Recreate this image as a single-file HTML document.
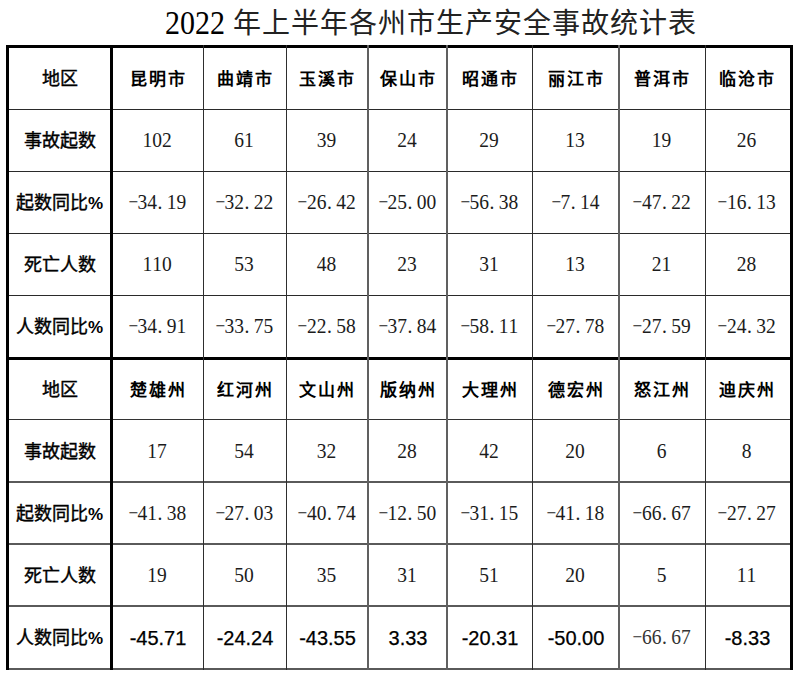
<!DOCTYPE html>
<html lang="zh-CN"><head><meta charset="utf-8"><title>table</title>
<style>
html,body{margin:0;padding:0;background:#fff;}
body{width:800px;height:676px;position:relative;overflow:hidden;font-family:"Liberation Serif",serif;color:#000;}
.l{position:absolute;}
.t{position:absolute;left:165px;top:7px;font-size:28px;letter-spacing:1px;line-height:34px;white-space:nowrap;color:#222;}
.tc{position:relative;top:-1px;}
.yr{display:inline-block;font-size:30px;letter-spacing:0;transform:scaleY(1.13);transform-origin:0 27px;color:#000;}
.c{position:absolute;display:flex;align-items:center;justify-content:center;white-space:nowrap;}
.lab{font-size:18px;font-weight:400;-webkit-text-stroke:0.4px #000;}
.lab span,.hd{position:relative;top:-2px;}
.lt{}
.lab b{-webkit-text-stroke:0;font-family:"Liberation Sans",sans-serif;font-size:17px;}
.hd{font-size:17px;font-weight:bold;letter-spacing:2px;padding-left:0px;}
.nm{font-size:19.5px;color:#1c1c1c;display:inline-block;transform:scaleY(1.1);position:relative;left:-1px;top:-1px;}
.g{color:#333;}
.nm i{font-style:normal;display:inline-block;width:0.5em;text-align:center;}
.nm i.m{transform:scaleX(0.88);}
.nm i.d{text-align:left;text-indent:0.5px;}
.sn{font-family:"Liberation Sans",sans-serif;font-size:20px;position:relative;top:1px;-webkit-text-stroke:0.25px #000;}
</style></head><body>
<div class="t"><span class="yr">2022</span> <span class="tc">年上半年各州市生产安全事故统计表</span></div>
<div class="l" style="left:6px;top:45px;width:787px;height:3px;background:#000"></div><div class="l" style="left:6px;top:109px;width:787px;height:1px;background:#2a2a2a"></div><div class="l" style="left:6px;top:171px;width:787px;height:1px;background:#2a2a2a"></div><div class="l" style="left:6px;top:233px;width:787px;height:1px;background:#2a2a2a"></div><div class="l" style="left:6px;top:295px;width:787px;height:1px;background:#2a2a2a"></div><div class="l" style="left:6px;top:357px;width:787px;height:3px;background:#000"></div><div class="l" style="left:6px;top:419px;width:787px;height:1px;background:#333"></div><div class="l" style="left:6px;top:481px;width:787px;height:2px;background:#5a5a5a"></div><div class="l" style="left:6px;top:543px;width:787px;height:2px;background:#5a5a5a"></div><div class="l" style="left:6px;top:605px;width:787px;height:2px;background:#5a5a5a"></div><div class="l" style="left:6px;top:668px;width:787px;height:2px;background:#5a5a5a"></div><div class="l" style="left:6px;top:45px;width:3px;height:625px;background:#000"></div><div class="l" style="left:110px;top:45px;width:3px;height:625px;background:#000"></div><div class="l" style="left:790px;top:45px;width:3px;height:625px;background:#000"></div><div class="l" style="left:203px;top:45px;width:1px;height:625px;background:#2e2e2e"></div><div class="l" style="left:286px;top:45px;width:1px;height:625px;background:#2e2e2e"></div><div class="l" style="left:532px;top:45px;width:1px;height:625px;background:#2e2e2e"></div><div class="l" style="left:705px;top:45px;width:1px;height:625px;background:#2e2e2e"></div><div class="l" style="left:367px;top:45px;width:2px;height:625px;background:#606060"></div><div class="l" style="left:446px;top:45px;width:2px;height:625px;background:#606060"></div><div class="l" style="left:618px;top:45px;width:2px;height:625px;background:#606060"></div>
<div class="c lab" style="left:9px;top:48px;width:101px;height:62px"><span>地区</span></div><div class="c" style="left:113px;top:48px;width:90px;height:62px"><span class="hd">昆明市</span></div><div class="c" style="left:204px;top:48px;width:82px;height:62px"><span class="hd">曲靖市</span></div><div class="c" style="left:287px;top:48px;width:81px;height:62px"><span class="hd">玉溪市</span></div><div class="c" style="left:369px;top:48px;width:78px;height:62px"><span class="hd">保山市</span></div><div class="c" style="left:448px;top:48px;width:84px;height:62px"><span class="hd">昭通市</span></div><div class="c" style="left:533px;top:48px;width:86px;height:62px"><span class="hd">丽江市</span></div><div class="c" style="left:620px;top:48px;width:85px;height:62px"><span class="hd">普洱市</span></div><div class="c" style="left:706px;top:48px;width:83px;height:62px"><span class="hd">临沧市</span></div><div class="c lab" style="left:9px;top:110px;width:101px;height:62px"><span>事故起数</span></div><div class="c" style="left:113px;top:110px;width:90px;height:62px"><span class="nm"><i>1</i><i>0</i><i>2</i></span></div><div class="c" style="left:204px;top:110px;width:82px;height:62px"><span class="nm"><i>6</i><i>1</i></span></div><div class="c" style="left:287px;top:110px;width:81px;height:62px"><span class="nm"><i>3</i><i>9</i></span></div><div class="c" style="left:369px;top:110px;width:78px;height:62px"><span class="nm"><i>2</i><i>4</i></span></div><div class="c" style="left:448px;top:110px;width:84px;height:62px"><span class="nm"><i>2</i><i>9</i></span></div><div class="c" style="left:533px;top:110px;width:86px;height:62px"><span class="nm"><i>1</i><i>3</i></span></div><div class="c" style="left:620px;top:110px;width:85px;height:62px"><span class="nm"><i>1</i><i>9</i></span></div><div class="c" style="left:706px;top:110px;width:83px;height:62px"><span class="nm"><i>2</i><i>6</i></span></div><div class="c lab" style="left:9px;top:172px;width:101px;height:62px"><span>起数同比<b>%</b></span></div><div class="c" style="left:113px;top:172px;width:90px;height:62px"><span class="nm"><i class="m">&#8722;</i><i>3</i><i>4</i><i class="d">.</i><i>1</i><i>9</i></span></div><div class="c" style="left:204px;top:172px;width:82px;height:62px"><span class="nm"><i class="m">&#8722;</i><i>3</i><i>2</i><i class="d">.</i><i>2</i><i>2</i></span></div><div class="c" style="left:287px;top:172px;width:81px;height:62px"><span class="nm"><i class="m">&#8722;</i><i>2</i><i>6</i><i class="d">.</i><i>4</i><i>2</i></span></div><div class="c" style="left:369px;top:172px;width:78px;height:62px"><span class="nm"><i class="m">&#8722;</i><i>2</i><i>5</i><i class="d">.</i><i>0</i><i>0</i></span></div><div class="c" style="left:448px;top:172px;width:84px;height:62px"><span class="nm"><i class="m">&#8722;</i><i>5</i><i>6</i><i class="d">.</i><i>3</i><i>8</i></span></div><div class="c" style="left:533px;top:172px;width:86px;height:62px"><span class="nm"><i class="m">&#8722;</i><i>7</i><i class="d">.</i><i>1</i><i>4</i></span></div><div class="c" style="left:620px;top:172px;width:85px;height:62px"><span class="nm"><i class="m">&#8722;</i><i>4</i><i>7</i><i class="d">.</i><i>2</i><i>2</i></span></div><div class="c" style="left:706px;top:172px;width:83px;height:62px"><span class="nm"><i class="m">&#8722;</i><i>1</i><i>6</i><i class="d">.</i><i>1</i><i>3</i></span></div><div class="c lab" style="left:9px;top:234px;width:101px;height:62px"><span>死亡人数</span></div><div class="c" style="left:113px;top:234px;width:90px;height:62px"><span class="nm"><i>1</i><i>1</i><i>0</i></span></div><div class="c" style="left:204px;top:234px;width:82px;height:62px"><span class="nm"><i>5</i><i>3</i></span></div><div class="c" style="left:287px;top:234px;width:81px;height:62px"><span class="nm"><i>4</i><i>8</i></span></div><div class="c" style="left:369px;top:234px;width:78px;height:62px"><span class="nm"><i>2</i><i>3</i></span></div><div class="c" style="left:448px;top:234px;width:84px;height:62px"><span class="nm"><i>3</i><i>1</i></span></div><div class="c" style="left:533px;top:234px;width:86px;height:62px"><span class="nm"><i>1</i><i>3</i></span></div><div class="c" style="left:620px;top:234px;width:85px;height:62px"><span class="nm"><i>2</i><i>1</i></span></div><div class="c" style="left:706px;top:234px;width:83px;height:62px"><span class="nm"><i>2</i><i>8</i></span></div><div class="c lab" style="left:9px;top:296px;width:101px;height:61px"><span>人数同比<b>%</b></span></div><div class="c" style="left:113px;top:296px;width:90px;height:61px"><span class="nm"><i class="m">&#8722;</i><i>3</i><i>4</i><i class="d">.</i><i>9</i><i>1</i></span></div><div class="c" style="left:204px;top:296px;width:82px;height:61px"><span class="nm"><i class="m">&#8722;</i><i>3</i><i>3</i><i class="d">.</i><i>7</i><i>5</i></span></div><div class="c" style="left:287px;top:296px;width:81px;height:61px"><span class="nm"><i class="m">&#8722;</i><i>2</i><i>2</i><i class="d">.</i><i>5</i><i>8</i></span></div><div class="c" style="left:369px;top:296px;width:78px;height:61px"><span class="nm"><i class="m">&#8722;</i><i>3</i><i>7</i><i class="d">.</i><i>8</i><i>4</i></span></div><div class="c" style="left:448px;top:296px;width:84px;height:61px"><span class="nm"><i class="m">&#8722;</i><i>5</i><i>8</i><i class="d">.</i><i>1</i><i>1</i></span></div><div class="c" style="left:533px;top:296px;width:86px;height:61px"><span class="nm"><i class="m">&#8722;</i><i>2</i><i>7</i><i class="d">.</i><i>7</i><i>8</i></span></div><div class="c" style="left:620px;top:296px;width:85px;height:61px"><span class="nm"><i class="m">&#8722;</i><i>2</i><i>7</i><i class="d">.</i><i>5</i><i>9</i></span></div><div class="c" style="left:706px;top:296px;width:83px;height:61px"><span class="nm"><i class="m">&#8722;</i><i>2</i><i>4</i><i class="d">.</i><i>3</i><i>2</i></span></div><div class="c lab lt" style="left:9px;top:360px;width:101px;height:60px"><span>地区</span></div><div class="c" style="left:113px;top:360px;width:90px;height:60px"><span class="hd">楚雄州</span></div><div class="c" style="left:204px;top:360px;width:82px;height:60px"><span class="hd">红河州</span></div><div class="c" style="left:287px;top:360px;width:81px;height:60px"><span class="hd">文山州</span></div><div class="c" style="left:369px;top:360px;width:78px;height:60px"><span class="hd">版纳州</span></div><div class="c" style="left:448px;top:360px;width:84px;height:60px"><span class="hd">大理州</span></div><div class="c" style="left:533px;top:360px;width:86px;height:60px"><span class="hd">德宏州</span></div><div class="c" style="left:620px;top:360px;width:85px;height:60px"><span class="hd">怒江州</span></div><div class="c" style="left:706px;top:360px;width:83px;height:60px"><span class="hd">迪庆州</span></div><div class="c lab" style="left:9px;top:420px;width:101px;height:63px"><span>事故起数</span></div><div class="c" style="left:113px;top:420px;width:90px;height:63px"><span class="nm"><i>1</i><i>7</i></span></div><div class="c" style="left:204px;top:420px;width:82px;height:63px"><span class="nm"><i>5</i><i>4</i></span></div><div class="c" style="left:287px;top:420px;width:81px;height:63px"><span class="nm"><i>3</i><i>2</i></span></div><div class="c" style="left:369px;top:420px;width:78px;height:63px"><span class="nm"><i>2</i><i>8</i></span></div><div class="c" style="left:448px;top:420px;width:84px;height:63px"><span class="nm"><i>4</i><i>2</i></span></div><div class="c" style="left:533px;top:420px;width:86px;height:63px"><span class="nm"><i>2</i><i>0</i></span></div><div class="c" style="left:620px;top:420px;width:85px;height:63px"><span class="nm"><i>6</i></span></div><div class="c" style="left:706px;top:420px;width:83px;height:63px"><span class="nm"><i>8</i></span></div><div class="c lab" style="left:9px;top:483px;width:101px;height:62px"><span>起数同比<b>%</b></span></div><div class="c" style="left:113px;top:483px;width:90px;height:62px"><span class="nm"><i class="m">&#8722;</i><i>4</i><i>1</i><i class="d">.</i><i>3</i><i>8</i></span></div><div class="c" style="left:204px;top:483px;width:82px;height:62px"><span class="nm"><i class="m">&#8722;</i><i>2</i><i>7</i><i class="d">.</i><i>0</i><i>3</i></span></div><div class="c" style="left:287px;top:483px;width:81px;height:62px"><span class="nm"><i class="m">&#8722;</i><i>4</i><i>0</i><i class="d">.</i><i>7</i><i>4</i></span></div><div class="c" style="left:369px;top:483px;width:78px;height:62px"><span class="nm"><i class="m">&#8722;</i><i>1</i><i>2</i><i class="d">.</i><i>5</i><i>0</i></span></div><div class="c" style="left:448px;top:483px;width:84px;height:62px"><span class="nm"><i class="m">&#8722;</i><i>3</i><i>1</i><i class="d">.</i><i>1</i><i>5</i></span></div><div class="c" style="left:533px;top:483px;width:86px;height:62px"><span class="nm"><i class="m">&#8722;</i><i>4</i><i>1</i><i class="d">.</i><i>1</i><i>8</i></span></div><div class="c" style="left:620px;top:483px;width:85px;height:62px"><span class="nm"><i class="m">&#8722;</i><i>6</i><i>6</i><i class="d">.</i><i>6</i><i>7</i></span></div><div class="c" style="left:706px;top:483px;width:83px;height:62px"><span class="nm"><i class="m">&#8722;</i><i>2</i><i>7</i><i class="d">.</i><i>2</i><i>7</i></span></div><div class="c lab" style="left:9px;top:545px;width:101px;height:62px"><span>死亡人数</span></div><div class="c" style="left:113px;top:545px;width:90px;height:62px"><span class="nm"><i>1</i><i>9</i></span></div><div class="c" style="left:204px;top:545px;width:82px;height:62px"><span class="nm"><i>5</i><i>0</i></span></div><div class="c" style="left:287px;top:545px;width:81px;height:62px"><span class="nm"><i>3</i><i>5</i></span></div><div class="c" style="left:369px;top:545px;width:78px;height:62px"><span class="nm"><i>3</i><i>1</i></span></div><div class="c" style="left:448px;top:545px;width:84px;height:62px"><span class="nm"><i>5</i><i>1</i></span></div><div class="c" style="left:533px;top:545px;width:86px;height:62px"><span class="nm"><i>2</i><i>0</i></span></div><div class="c" style="left:620px;top:545px;width:85px;height:62px"><span class="nm"><i>5</i></span></div><div class="c" style="left:706px;top:545px;width:83px;height:62px"><span class="nm"><i>1</i><i>1</i></span></div><div class="c lab" style="left:9px;top:607px;width:101px;height:61px"><span>人数同比<b>%</b></span></div><div class="c" style="left:113px;top:607px;width:90px;height:61px"><span class="sn">-45.71</span></div><div class="c" style="left:204px;top:607px;width:82px;height:61px"><span class="sn">-24.24</span></div><div class="c" style="left:287px;top:607px;width:81px;height:61px"><span class="sn">-43.55</span></div><div class="c" style="left:369px;top:607px;width:78px;height:61px"><span class="sn">3.33</span></div><div class="c" style="left:448px;top:607px;width:84px;height:61px"><span class="sn">-20.31</span></div><div class="c" style="left:533px;top:607px;width:86px;height:61px"><span class="sn">-50.00</span></div><div class="c" style="left:620px;top:607px;width:85px;height:61px"><span class="nm g"><i class="m">&#8722;</i><i>6</i><i>6</i><i class="d">.</i><i>6</i><i>7</i></span></div><div class="c" style="left:706px;top:607px;width:83px;height:61px"><span class="sn">-8.33</span></div>
</body></html>
